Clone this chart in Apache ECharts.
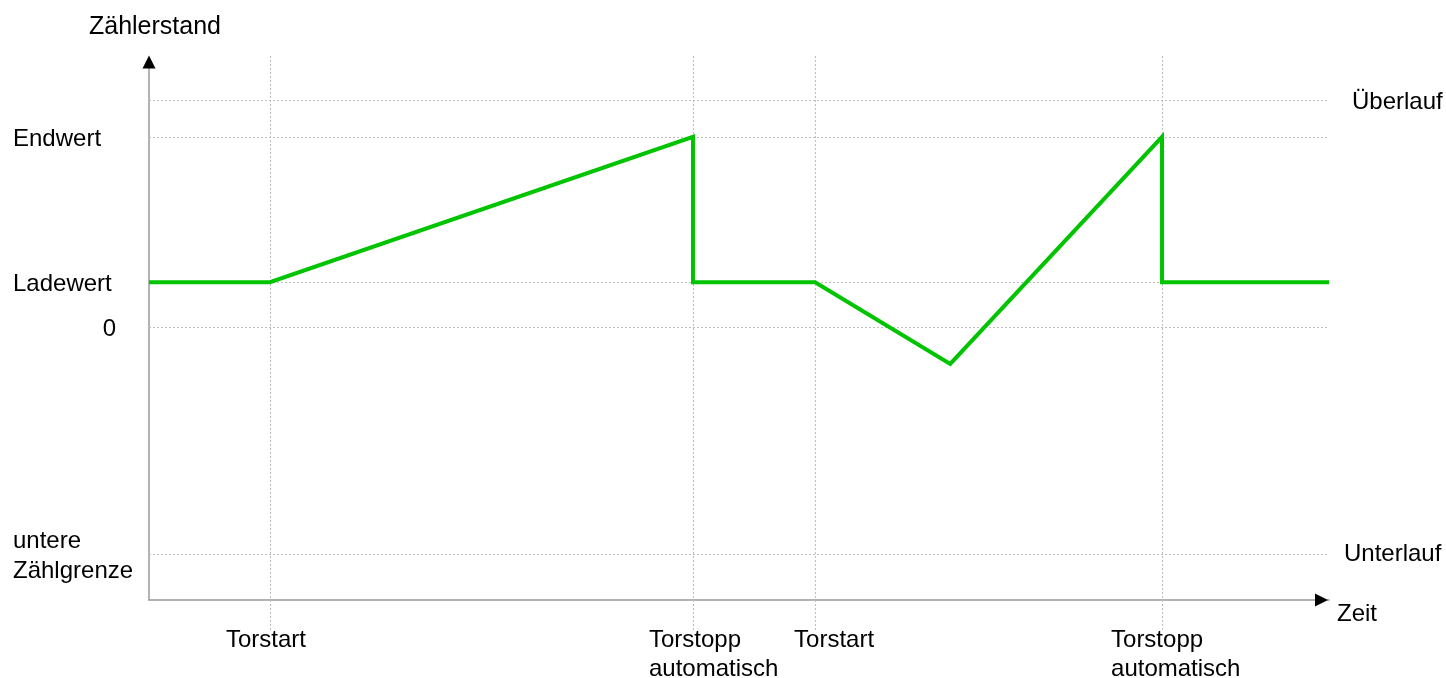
<!DOCTYPE html>
<html>
<head>
<meta charset="utf-8">
<title>Zählerstand</title>
<script src="https://cdn.jsdelivr.net/npm/echarts@6/dist/echarts.min.js"></script>
<style>
  html, body { margin: 0; padding: 0; background: #fff; }
  #chart { width: 1446px; height: 678px; }
</style>
</head>
<body>
<div id="chart"></div>
<script>
// Gate events on the time axis
const eventTimes = [10.25, 46.1, 56.45, 85.85];
const eventLabels = ['Torstart', 'Torstopp\nautomatisch', 'Torstart', 'Torstopp\nautomatisch'];

// Counter levels marked on the left and right
const leftLevels = [84, 20, 0, -100];
const leftLevelLabels = ['Endwert', 'Ladewert', '0', 'untere\nZählgrenze'];
const rightLevels = [100, -100];
const rightLevelLabels = ['Überlauf', 'Unterlauf'];
const gridLevels = [100, 84, 20, 0, -100];

// Counter value over time
const counterTimes = [0, 10.25, 46.1, 46.1, 56.45, 67.9, 85.85, 85.85, 100];
const counterValues = [20, 20, 84, 20, 20, -16, 84, 20, 20];

// ---- layout / style ----
const FONT = "'Liberation Sans', Arial, Helvetica, sans-serif";
const FS = 24;
const AXIS_GREY = '#9a9a9a';
const GRID_GREY = '#bdbdbd';
const GREEN = '#00c400';
const labelShift = [44, 44, 21, 51];   // how far each time label starts left of its event line

const X_MIN = 0, X_MAX = 100, Y_MIN = -120, Y_MAX = 117;
const gridMain = { left: 149, right: 117, top: 62, bottom: 78 };
const gridEvents = { left: 149, right: 117, top: 54, bottom: 48 };

function nearestIndex(arr, v) {
  let best = 0;
  for (let i = 1; i < arr.length; i++) {
    if (Math.abs(arr[i] - v) < Math.abs(arr[best] - v)) best = i;
  }
  return best;
}

const xRich = {};
labelShift.forEach((w, i) => {
  xRich['s' + i] = { width: w, align: 'left', fontSize: FS, lineHeight: 29, fontFamily: FONT, color: '#000' };
});

const counterData = counterTimes.map((t, i) => [t, counterValues[i]]);

const option = {
  animation: false,
  backgroundColor: '#fff',
  textStyle: { fontFamily: FONT },
  grid: [
    Object.assign({ containLabel: false, outerBoundsMode: 'none' }, gridMain),
    Object.assign({ containLabel: false, outerBoundsMode: 'none' }, gridEvents)
  ],
  xAxis: [
    { // time axis
      type: 'value', gridIndex: 0, min: X_MIN, max: X_MAX, position: 'bottom',
      axisLine: { show: true, onZero: false, lineStyle: { color: AXIS_GREY, width: 1.5 } },
      axisTick: { show: false },
      splitLine: { show: false },
      axisLabel: {
        show: true, customValues: eventTimes, margin: 26, align: 'right',
        fontSize: FS, lineHeight: 29, color: '#000', fontFamily: FONT,
        formatter: function (v) {
          const i = nearestIndex(eventTimes, v);
          return eventLabels[i].split('\n').map(s => '{s' + i + '|' + s + '}').join('\n');
        },
        rich: xRich
      },
      name: 'Zeit', nameLocation: 'end', nameGap: 8,
      nameTextStyle: { fontSize: FS, lineHeight: 28, color: '#000', fontFamily: FONT, align: 'left', verticalAlign: 'top' }
    },
    { // arrow head of the time axis
      type: 'value', gridIndex: 0, min: X_MIN, max: X_MAX, position: 'bottom',
      axisLine: { show: true, onZero: false, symbol: ['none', 'triangle'], symbolSize: [13, 13], symbolOffset: [0, -7.5], lineStyle: { color: '#000', width: 0 } },
      axisTick: { show: false }, axisLabel: { show: false }, splitLine: { show: false }
    },
    { // event lines
      type: 'value', gridIndex: 1, min: X_MIN, max: X_MAX, show: false
    }
  ],
  yAxis: [
    { // counter axis
      type: 'value', gridIndex: 0, min: Y_MIN, max: Y_MAX, position: 'left',
      axisLine: { show: true, onZero: false, lineStyle: { color: AXIS_GREY, width: 1.5 } },
      axisTick: { show: false },
      splitLine: { show: false },
      axisLabel: {
        show: true, customValues: leftLevels, margin: 136, align: 'left', verticalAlign: 'middle',
        fontSize: FS, lineHeight: 30, color: '#000', fontFamily: FONT,
        padding: [4, 0, 0, 0],
        formatter: function (v) {
          const i = nearestIndex(leftLevels, v);
          const txt = leftLevelLabels[i];
          if (txt === '0') return '{r|0}';
          return txt.split('\n').map(s => '{l|' + s + '}').join('\n');
        },
        rich: {
          l: { fontSize: FS, lineHeight: 30, fontFamily: FONT, color: '#000', align: 'left' },
          r: { fontSize: FS, lineHeight: 30, fontFamily: FONT, color: '#000', width: 103, align: 'right' }
        }
      },
      name: 'Zählerstand', nameLocation: 'end', nameGap: 22,
      nameTextStyle: { fontSize: 25, color: '#000', fontFamily: FONT, align: 'center', padding: [0, 0, 0, 12] }
    },
    { // overflow / underflow labels
      type: 'value', gridIndex: 0, min: Y_MIN, max: Y_MAX, position: 'right',
      axisLine: { show: false }, axisTick: { show: false }, splitLine: { show: false },
      axisLabel: {
        show: true, customValues: rightLevels, margin: 15, align: 'left', verticalAlign: 'middle',
        fontSize: FS, color: '#000', fontFamily: FONT,
        formatter: function (v) {
          const i = nearestIndex(rightLevels, v);
          return (i === 0 ? '{o|' : '{u|') + rightLevelLabels[i] + '}';
        },
        rich: {
          o: { fontSize: FS, fontFamily: FONT, color: '#000', padding: [4, 0, 0, 8] },
          u: { fontSize: FS, fontFamily: FONT, color: '#000', padding: [0, 0, 0, 0] }
        }
      }
    },
    { // arrow head of the counter axis
      type: 'value', gridIndex: 0, min: Y_MIN, max: Y_MAX, position: 'left',
      axisLine: { show: true, onZero: false, symbol: ['none', 'triangle'], symbolSize: [13, 13], lineStyle: { color: '#000', width: 0 } },
      axisTick: { show: false }, axisLabel: { show: false }, splitLine: { show: false }
    },
    { // event lines
      type: 'value', gridIndex: 1, min: 0, max: 1, show: false
    }
  ],
  series: [
    { // horizontal level lines
      type: 'line', xAxisIndex: 0, yAxisIndex: 0, data: [], z: 1, silent: true,
      markLine: {
        silent: true, symbol: 'none', label: { show: false },
        lineStyle: { color: GRID_GREY, width: 1, type: [2, 2] },
        data: gridLevels.map(v => ({ yAxis: v }))
      }
    },
    { // vertical event lines
      type: 'line', xAxisIndex: 2, yAxisIndex: 3, data: [], z: 1, silent: true,
      markLine: {
        silent: true, symbol: 'none', label: { show: false },
        lineStyle: { color: GRID_GREY, width: 1, type: [2, 2] },
        data: eventTimes.map(t => ({ xAxis: t }))
      }
    },
    { // counter value
      type: 'line', xAxisIndex: 0, yAxisIndex: 0, z: 5,
      data: counterData,
      showSymbol: false, symbol: 'none',
      lineStyle: { color: GREEN, width: 4, join: 'miter' },
      itemStyle: { color: GREEN }
    }
  ]
};

const chart = echarts.init(document.getElementById('chart'), null, { renderer: 'canvas' });
chart.setOption(option);
</script>
</body>
</html>
